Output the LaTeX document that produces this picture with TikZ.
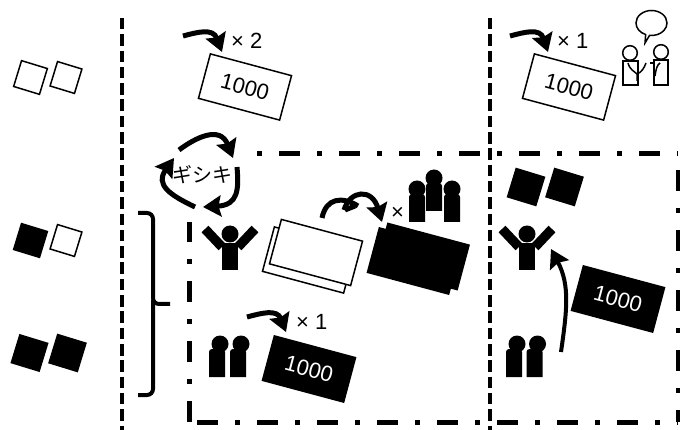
\documentclass[tikz,border=0pt]{standalone}
\usepackage{fontspec}
\setmainfont{Liberation Sans}
\newfontfamily\jpfont{Noto Sans CJK JP}
\usepackage{xcolor}
\usepackage{tikz}
\usetikzlibrary{arrows.meta, positioning, shapes.callouts}

\begin{document}
\begin{tikzpicture}[x=1pt, y=-1pt, >=stealth,
  coin/.style={rectangle, draw, fill=white, line width=1.5pt, inner sep=0pt, minimum size=#1},
  solidcoin/.style={coin=#1, fill=black},
  note/.style={rectangle, draw, fill=white, line width=1.5pt, inner sep=0pt, minimum width=84pt, minimum height=46pt, rotate=-15, font=\fontsize{22}{24}\selectfont},
  solidnote/.style={note, fill=black, text=white},
  count/.style={inner sep=0pt, font=\fontsize{22}{24}\selectfont},
  turn/.style={-{Stealth[length=18pt, width=21pt, inset=2.5pt]}, line width=5pt},
  border/.style={line width=4pt, dash pattern=on 11.5pt off 4.8pt},
  zone/.style={line width=5pt, dash pattern=on 21pt off 17pt on 5pt off 17pt},
  mate/.pic={\fill (0,0) circle (8.5);
    \fill (#1-8,33) {[rounded corners=3] -- (#1-8,5) -- (#1+8,5)} -- (#1+8,33) -- cycle;},
  cheer/.pic={\fill (0,0) circle (8.5);
    \fill (-8,9) rectangle (8,36);
    \draw [line width=9.5pt] (-25,-5) -- (-8,13);
    \draw [line width=9.5pt] (25,-5) -- (8,13);}]
\useasboundingbox (0,0) rectangle (680,430);
% coins on the left
\node [coin=27pt, rotate=-17] (W1) at (30.5,77.5) {};
\node [coin=25.5pt, rotate=-17] (W2) at (66,77.5) {};
\node [solidcoin=27pt, rotate=-17] (K1) at (30.5,240.5) {};
\node [coin=25.5pt, rotate=-17] (W3) at (66,240.5) {};
\node [solidcoin=29pt, rotate=-17] (K2) at (29.5,353) {};
\node [solidcoin=29.5pt, rotate=-17] (K3) at (67.5,353) {};
\node [solidcoin=29.5pt, rotate=-17] (K4) at (526,187) {};
\node [solidcoin=29.5pt, rotate=-17] (K5) at (564.5,187) {};
% columns and zone
\draw [border] (122,18) -- (122,430);
\draw [border] (490,18) -- (490,430);
\draw [zone] (189,422) -- (189,222);
\draw [zone] (197,422) -- (678,422);
\draw [zone] (678,170) -- (678,422);
\draw [zone, dash phase=38pt] (257,154) -- (678,154);
% brace
\draw [line width=4pt, rounded corners=6pt] (138,213) -- (153,213) -- (153,304) -- (170,304);
\draw [line width=4pt, rounded corners=6pt] (153,300) -- (153,395) -- (138,395);
% notes
\node [note] (N1) at (245,87) {1000};
\node [note] (N2) at (569,87) {1000};
\node [note] (N3) at (309,260) {};
\node [note] (N4) at (316,252.5) {};
\node [solidnote] (N5) at (414,261) {};
\node [solidnote] (N6) at (422.5,256.5) {};
\node [solidnote] (N7) at (309,369) {1000};
\node [solidnote] (N8) at (618,299) {1000};
% counts
\node [count, anchor=west] (C1) at (231,40.5) {× 2};
\node [count, anchor=west] (C2) at (557,40.5) {× 1};
\node [count, anchor=west] (C3) at (296,322) {× 1};
\node [count, anchor=west] (C4) at (391,213.5) {×};
\node [inner sep=0pt, font=\fontsize{20}{22}\selectfont\jpfont] (G) at (202,175) {ギシキ};
% arrows
\draw [turn] (183,36) .. controls (198,32) and (213,28) .. (222,52);
\draw [turn] (510,36) .. controls (525,32) and (540,28) .. (548,52);
\draw [turn] (247,317) .. controls (262,313) and (277,309) .. (286,332);
\draw [line width=5pt] (322,218) .. controls (326,198) and (342,196) .. (358,206);
\draw [turn] (344,210) .. controls (350,190) and (372,188) .. (382,222);
\draw [line width=5pt] (345,210) -- (355,206);
\draw [turn] (179,150) .. controls (195,138) and (220,125) .. (233,158);
\draw [turn] (237,167) .. controls (239,190) and (238,205) .. (203,207);
\draw [turn] (195,207) .. controls (170,195) and (155,185) .. (174,158);
\draw [turn, line width=4pt] (561,352) .. controls (567,310) and (570,285) .. (551,249);
% people
\pic at (230,234) {cheer};
\pic at (527,234) {cheer};
\pic at (220,344) {mate=-3};
\pic at (241,344) {mate=-3};
\pic at (517,344) {mate=-3};
\pic at (537.5,344) {mate=-3};
\pic at (417,189) {mate=0};
\pic at (434,178) {mate=0};
\pic at (452,189) {mate=0};
% talking pair
\node [ellipse callout, draw, line width=1.5pt, inner sep=0pt, minimum width=31pt, minimum height=25pt, callout absolute pointer={(645,43)}] (B) at (651.5,23) {};
\draw [line width=1.5pt] (630,53) circle (7.3);
\draw [line width=1.5pt] (623,61) rectangle (638,85);
\draw [line width=1.5pt] (661,52) circle (7.3);
\draw [line width=1.5pt] (654,60) rectangle (668,85);
\draw [line width=1.5pt] (628,63) .. controls (630,70) and (634,71) .. (637,74) -- (637,81);
\draw [line width=1.5pt] (637,74) .. controls (642,72) and (644,68) .. (646,63);
\draw [line width=1.5pt] (660,63) .. controls (657,65) and (656,69) .. (655,76);
\draw [line width=1.5pt] (650,63) -- (653,63);
\end{tikzpicture}
\end{document}
